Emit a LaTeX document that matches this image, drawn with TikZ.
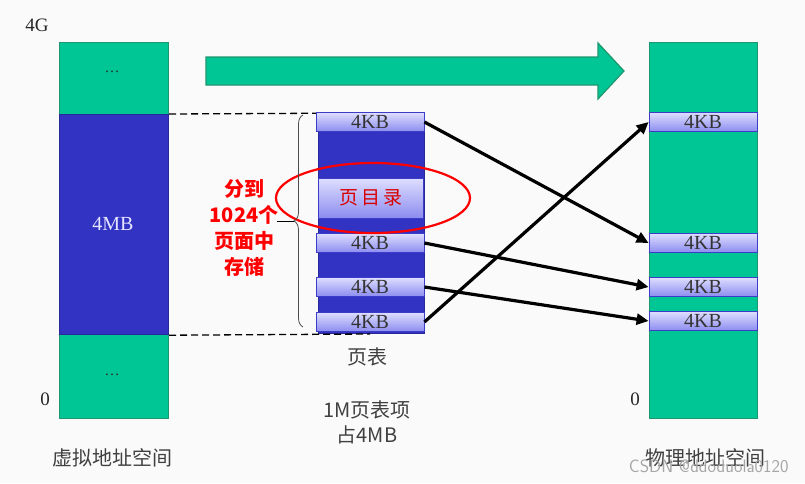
\documentclass[tikz,border=0pt]{standalone}
\usepackage{fontspec}
\setmainfont{Liberation Serif}
\newfontfamily\cjk{Noto Sans CJK SC}
\usetikzlibrary{decorations.pathreplacing,arrows.meta}
\definecolor{mgreen}{RGB}{0,198,150}
\definecolor{mgreenb}{RGB}{30,150,110}
\definecolor{mblue}{RGB}{50,50,195}
\definecolor{mblueb}{RGB}{40,40,150}
\definecolor{etop}{RGB}{222,222,255}
\definecolor{ebot}{RGB}{140,140,240}
\definecolor{eb}{RGB}{60,60,200}
\definecolor{bg}{RGB}{250,250,250}
\tikzset{
  greenbox/.style={draw=mgreenb, line width=1.2pt, fill=mgreen},
  bluebox/.style={draw=mblueb, line width=1.2pt, fill=mblue},
  entry/.style={draw=eb, line width=0.8pt, top color=etop, bottom color=ebot, minimum width=108pt, minimum height=19pt, inner sep=0pt, font=\fontsize{20}{20}\selectfont, text=black!80},
  lbl/.style={font=\fontsize{19}{20}\selectfont, text=black!85, inner sep=0pt},
  clbl/.style={font=\cjk\fontsize{20}{25}\selectfont, text=black!75, inner sep=0pt, align=center},
  conn/.style={line width=3.2pt, -{Triangle[length=12pt,width=11pt]}},
  dashln/.style={dashed, dash pattern=on 7pt off 4pt, line width=1.3pt},
}
\begin{document}
\begin{tikzpicture}[x=1pt,y=-1pt]
\fill[bg] (0,0) rectangle (805,483);
\useasboundingbox (0,0) rectangle (805,483);
% left column
\node[greenbox, minimum width=109pt, minimum height=72pt, inner sep=0pt, anchor=north west] (vtop) at (59,42) {};
\node[greenbox, minimum width=109pt, minimum height=84pt, inner sep=0pt, anchor=north west] (vbot) at (59,334) {};
\node[bluebox, minimum width=109pt, minimum height=220pt, inner sep=0pt, anchor=north west] (vmid) at (59,114) {};
\node[lbl] (dots1) at (112,72) {\fontsize{15}{15}\selectfont\ldots};
\node[lbl] (dots2) at (112,375) {\fontsize{15}{15}\selectfont\ldots};
\node[lbl, text=white!90!blue, font=\fontsize{20}{20}\selectfont] (v4mb) at (113,224) {4MB};
\node[lbl] (l4g) at (37,25) {4G};
\node[lbl] (l0a) at (45,399) {0};
\node[clbl] (vlab) at (112,458) {虚拟地址空间};
% big arrow
\draw[mgreenb, line width=1.2pt, fill=mgreen] (206,57) -- (598,57) -- (598,43) -- (624,71) -- (598,99) -- (598,85) -- (206,85) -- cycle;
% page table
\node[bluebox, minimum width=106pt, minimum height=220pt, inner sep=0pt, anchor=north west] (pt) at (318,113) {};
\coordinate (dA) at (370,113);
\coordinate (dB) at (370,334);
\draw[dashln] (vmid.north east) -- (dA);
\draw[dashln] (vmid.south east) -- (dB);
\node[entry] (p1) at (370,122) {4KB};
\node[entry, minimum width=105pt, minimum height=40pt, font=\cjk\fontsize{19}{19}\selectfont, text=red!85!black] (pdir) at (371,198) {页\,目\,录};
\node[entry] (p2) at (370,243) {4KB};
\node[entry] (p3) at (370,287) {4KB};
\node[entry] (p4) at (370,322) {4KB};
\draw[red, line width=2.2pt] (373,198) ellipse [x radius=97, y radius=35];
% brace
\coordinate (bb) at (303,327);
\coordinate (bt) at (303,115);
\draw[black!70, line width=0.8pt, decorate, decoration={brace, amplitude=9pt}] (bb) -- (bt);
\coordinate (btip) at (294,221);
\coordinate (btail) at (277,221);
\draw[black, line width=0.8pt] (btip) -- (btail);
\node[font=\cjk\bfseries\fontsize{20}{25.7}\selectfont, text=red, align=center] (note) at (244,228) {分到\\1024个\\页面中\\存储};
\node[clbl] (ptlab) at (367,357) {页表};
\node[clbl] (ptinfo) at (367,422) {1M页表项\\占4MB};
% right column
\node[greenbox, minimum width=108pt, minimum height=376pt, inner sep=0pt, anchor=north west] (phys) at (649,42) {};
\node[entry] (f1) at (703,122) {4KB};
\node[entry] (f2) at (703,243) {4KB};
\node[entry] (f3) at (703,287) {4KB};
\node[entry] (f4) at (703,321) {4KB};
\node[lbl] (l0b) at (635,399) {0};
\node[clbl] (plab) at (705,458) {物理地址空间};
% arrows
\draw[conn] (p1.east) -- (f2.west);
\draw[conn] (p2.east) -- (f3.west);
\draw[conn] (p3.east) -- (f4.west);
\draw[conn] (p4.east) -- (f1.west);
\node[font=\fontsize{18}{18}\selectfont\sffamily, text=black!35, anchor=east] (wm) at (792,466) {CSDN @ddoduola0120};
\end{tikzpicture}
\end{document}
